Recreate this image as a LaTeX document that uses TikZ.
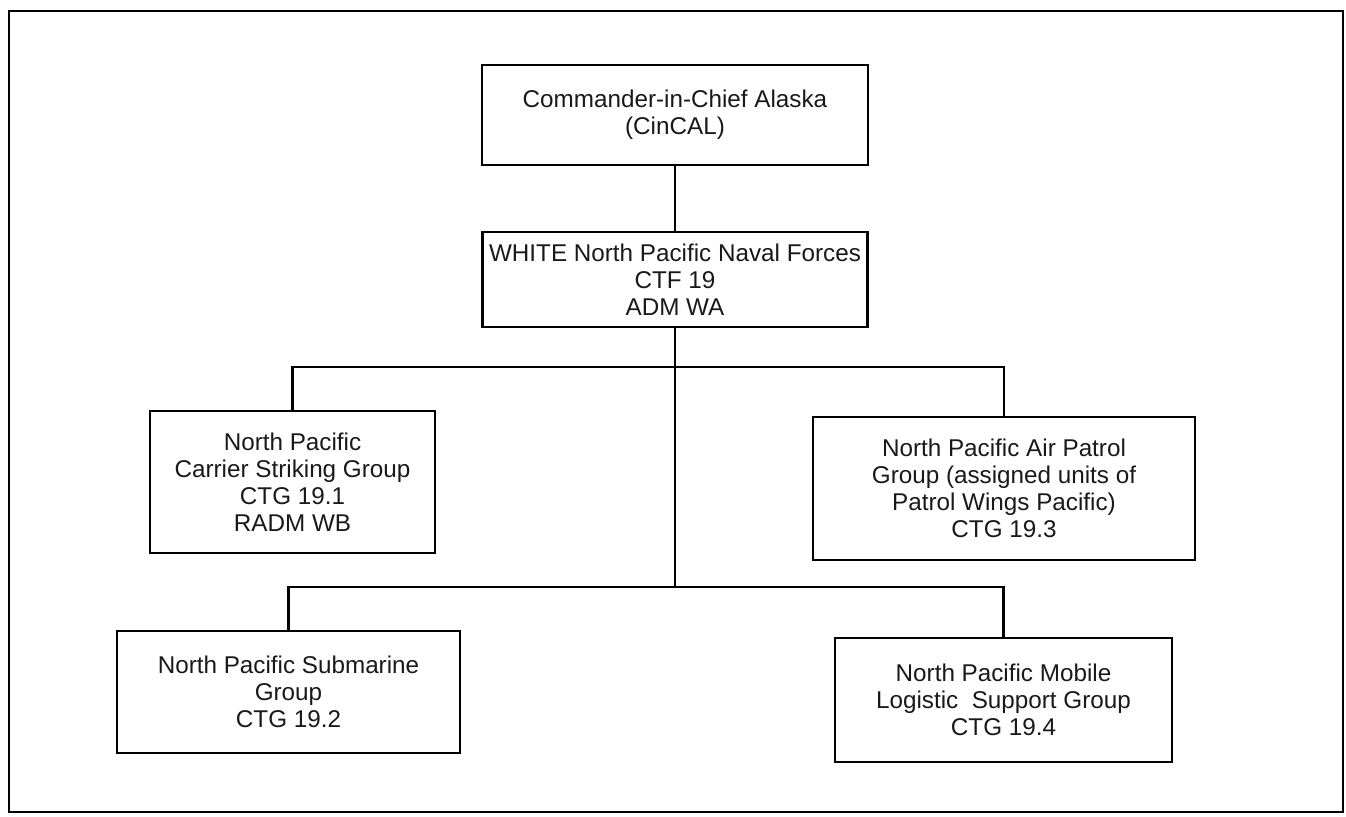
\documentclass[tikz,border=0pt]{standalone}
\usepackage{fontspec}
\setmainfont{Liberation Sans}

\begin{document}
\begin{tikzpicture}[x=0.02cm,y=-0.02cm,
  orgbox/.style={draw,line width=1.6pt,inner sep=0pt,align=center,
    text=black!90,font=\fontsize{13.8}{15.3}\selectfont},
  link/.style={line width=1.6pt}]
  \useasboundingbox (0,0) rectangle (1346,817);
  \draw[line width=1.4pt] (9,11) rectangle (1343,812);

  \node[orgbox,minimum width=7.72cm,minimum height=2cm] (cincal) at (675,115)
    {Commander-in-Chief Alaska\\(CinCAL)};
  \node[orgbox,minimum width=7.7cm,minimum height=1.9cm] (ctf) at (675,279.5)
    {WHITE North Pacific Naval Forces\\CTF 19\\ADM WA};
  \node[orgbox,minimum width=5.7cm,minimum height=2.84cm] (ctg1) at (292.5,482)
    {North Pacific\\Carrier Striking Group\\CTG 19.1\\RADM WB};
  \node[orgbox,minimum width=7.64cm,minimum height=2.86cm] (ctg3) at (1004,488.5)
    {North Pacific Air Patrol\\Group (assigned units of\\Patrol Wings Pacific)\\CTG 19.3};
  \node[orgbox,minimum width=6.86cm,minimum height=2.44cm] (ctg2) at (288.5,692)
    {North Pacific Submarine\\Group\\CTG 19.2};
  \node[orgbox,minimum width=6.74cm,minimum height=2.48cm] (ctg4) at (1003.5,700)
    {North Pacific Mobile\\Logistic\ \ Support Group\\CTG 19.4};

  \coordinate (upjoin) at (ctf.south |- 0,367);
  \coordinate (lowjoin) at (ctf.south |- 0,587);

  \draw[link] (cincal.south) -- (ctf.north);
  \draw[link] (ctf.south) -- (lowjoin);
  \draw[link] (ctg1.north) |- (upjoin) -| (ctg3.north);
  \draw[link] (ctg2.north) |- (lowjoin) -| (ctg4.north);
\end{tikzpicture}
\end{document}
